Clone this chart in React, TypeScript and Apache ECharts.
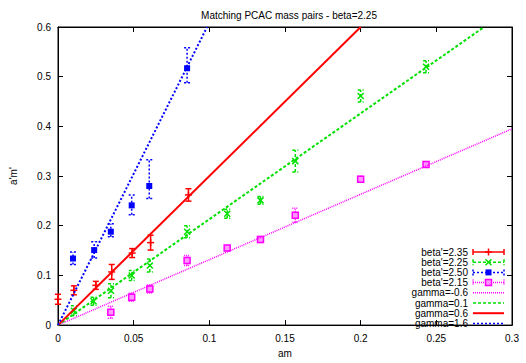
import React, { useEffect, useRef } from "react";
import * as echarts from "echarts";

// ---- data ----
const titleText = "Matching PCAC mass pairs - beta=2.25";
const xName = "am";
const yName = "a'm'";

// beta'=2.35 (red, +)
const redX = [0, 0.0105, 0.025, 0.0355, 0.049, 0.0612, 0.0862];
const redY = [0.052, 0.07, 0.08, 0.107, 0.145, 0.166, 0.262];
const redErr = [0.01, 0.009, 0.008, 0.015, 0.009, 0.015, 0.0125];

// beta'=2.25 (green, x)
const greenX = [0.0105, 0.0235, 0.035, 0.0487, 0.0607, 0.0853, 0.1118, 0.1338, 0.1568, 0.2, 0.2432];
const greenY = [0.029, 0.048, 0.069, 0.1, 0.12, 0.188, 0.224, 0.251, 0.33, 0.461, 0.52];
const greenErr = [0.01, 0.008, 0.014, 0.01, 0.013, 0.012, 0.009, 0.008, 0.022, 0.012, 0.012];

// beta'=2.50 (blue, filled square) - asymmetric bars
const blueX = [0.0099, 0.0239, 0.0349, 0.0487, 0.0603, 0.0853];
const blueY = [0.134, 0.151, 0.188, 0.241, 0.28, 0.517];
const blueLo = [0.122, 0.135, 0.178, 0.222, 0.255, 0.488];
const blueHi = [0.147, 0.168, 0.204, 0.262, 0.333, 0.558];

// beta'=2.15 (magenta, open square)
const magX = [0.0349, 0.0487, 0.0607, 0.0853, 0.1118, 0.1338, 0.1568, 0.2, 0.2432];
const magY = [0.026, 0.056, 0.0725, 0.13, 0.155, 0.1725, 0.221, 0.2935, 0.323];
const magErr = [0.012, 0.008, 0.008, 0.01, 0.005, 0.006, 0.014, 0.006, 0.005];

// straight lines through the origin: [x, y] at the end of each line
const lineStart = [0, 0];
const gammaM06End = [0.3, 0.395];
const gamma01End = [0.2816, 0.6];
const gamma06End = [0.2, 0.6];
const gamma16End = [0.0985, 0.6];

const legendLabels = [
  "beta'=2.35",
  "beta'=2.25",
  "beta'=2.50",
  "beta'=2.15",
  "gamma=-0.6",
  "gamma=0.1",
  "gamma=0.6",
  "gamma=1.6",
];

const xTicks = { min: 0, max: 0.3, interval: 0.05 };
const yTicks = { min: 0, max: 0.6, interval: 0.1 };

// ---- styles ----
const RED = "#ff0000";
const GREEN = "#00e000";
const BLUE = "#0000ff";
const MAG = "#ff00ff";
const FONT = "Liberation Sans, Arial, Helvetica, sans-serif";

function marker(kind: string, cx: number, cy: number, color: string): any {
  const lw = 1.5;
  if (kind === "plus") {
    return {
      type: "group",
      children: [
        { type: "line", shape: { x1: cx - 3.5, y1: cy, x2: cx + 3.5, y2: cy }, style: { stroke: color, lineWidth: lw } },
        { type: "line", shape: { x1: cx, y1: cy - 3.5, x2: cx, y2: cy + 3.5 }, style: { stroke: color, lineWidth: lw } },
      ],
    };
  }
  if (kind === "cross") {
    return {
      type: "group",
      children: [
        { type: "line", shape: { x1: cx - 3, y1: cy - 3, x2: cx + 3, y2: cy + 3 }, style: { stroke: color, lineWidth: lw } },
        { type: "line", shape: { x1: cx - 3, y1: cy + 3, x2: cx + 3, y2: cy - 3 }, style: { stroke: color, lineWidth: lw } },
      ],
    };
  }
  if (kind === "fsquare") {
    return { type: "rect", shape: { x: cx - 3, y: cy - 3, width: 6, height: 6 }, style: { fill: color } };
  }
  return {
    type: "rect",
    shape: { x: cx - 3, y: cy - 3, width: 6, height: 6 },
    style: { fill: "#ff99ff", stroke: color, lineWidth: 1.5 },
  };
}

function errSeries(name: string, xs: number[], ys: number[], lo: number[], hi: number[], color: string, dash: any, kind: string): any {
  return {
    type: "custom",
    name,
    xAxisIndex: 0,
    yAxisIndex: 0,
    encode: { x: 0, y: 1 },
    data: xs.map((x, i) => [x, ys[i], lo[i], hi[i]]),
    z: 3,
    renderItem: (params: any, api: any) => {
      const x = api.value(0);
      const c = api.coord([x, api.value(1)]);
      const l = api.coord([x, api.value(2)]);
      const h = api.coord([x, api.value(3)]);
      const ls = { stroke: color, lineWidth: 1.5, lineDash: dash };
      return {
        type: "group",
        children: [
          { type: "line", shape: { x1: c[0], y1: l[1], x2: c[0], y2: h[1] }, style: ls },
          { type: "line", shape: { x1: c[0] - 3, y1: l[1], x2: c[0] + 3, y2: l[1] }, style: ls },
          { type: "line", shape: { x1: c[0] - 3, y1: h[1], x2: c[0] + 3, y2: h[1] }, style: ls },
          marker(kind, c[0], c[1], color),
        ],
      };
    },
  };
}

function lineSeries(name: string, end: number[], color: string, dash: any, width: number): any {
  return {
    type: "line",
    name,
    xAxisIndex: 0,
    yAxisIndex: 0,
    data: [lineStart, end],
    showSymbol: false,
    symbol: "none",
    z: 4,
    lineStyle: { color, width, type: dash },
  };
}

export default function App() {
  const ref = useRef<HTMLDivElement>(null);
  useEffect(() => {
    if (!ref.current) return;
    const chart = echarts.init(ref.current, null, { renderer: "svg" });

    const axisCommon = {
      type: "value",
      splitLine: { show: false },
      axisLine: { show: true, onZero: false, lineStyle: { color: "#000", width: 1 } },
      axisTick: { show: true, inside: true, length: 5, lineStyle: { color: "#000" } },
    };
    const labelStyle = { color: "#000", fontSize: 10, fontFamily: FONT };

    // legend drawn as graphics (text right, sample to the right)
    const legendKinds = [
      { color: RED, dash: "solid", kind: "plus", err: true },
      { color: GREEN, dash: [3, 2], kind: "cross", err: true },
      { color: BLUE, dash: [2, 2], kind: "fsquare", err: true },
      { color: MAG, dash: [1, 1], kind: "osquare", err: true },
      { color: MAG, dash: [1, 1], kind: "", err: false },
      { color: GREEN, dash: [3, 2], kind: "", err: false },
      { color: RED, dash: undefined, kind: "", err: false },
      { color: BLUE, dash: [2, 2], kind: "", err: false },
    ];
    const legendGraphics: any[] = [];
    const textRight = 468;
    const sx1 = 473;
    const sx2 = 504;
    const row0 = 252;
    const step = 10.2;
    legendLabels.forEach((lab, i) => {
      const y = row0 + i * step;
      const k = legendKinds[i];
      legendGraphics.push({
        type: "text",
        x: textRight,
        y,
        style: { text: lab, fill: "#000", font: `10px ${FONT}`, textAlign: "right", textVerticalAlign: "middle" },
      });
      const ls: any = { stroke: k.color, lineWidth: i === 6 ? 2 : 1.5 };
      if (k.dash && k.dash !== "solid") ls.lineDash = k.dash;
      legendGraphics.push({ type: "line", shape: { x1: sx1, y1: y, x2: sx2, y2: y }, style: ls });
      if (k.err) {
        legendGraphics.push({ type: "line", shape: { x1: sx1, y1: y - 3, x2: sx1, y2: y + 3 }, style: ls });
        legendGraphics.push({ type: "line", shape: { x1: sx2, y1: y - 3, x2: sx2, y2: y + 3 }, style: ls });
        legendGraphics.push(marker(k.kind, (sx1 + sx2) / 2, y, k.color));
      }
    });

    chart.setOption({
      animation: false,
      backgroundColor: "#fff",
      title: {
        text: titleText,
        left: 284,
        top: 5,
        textAlign: "center",
        textStyle: { fontSize: 10, fontWeight: "normal", color: "#000", fontFamily: FONT },
      },
      grid: { left: 56, right: 14, top: 27, bottom: 30, show: true, borderColor: "#000", borderWidth: 1 },
      xAxis: [
        {
          ...axisCommon,
          position: "bottom",
          ...xTicks,
          axisLabel: { ...labelStyle, margin: 8 },
          name: xName,
          nameLocation: "middle",
          nameGap: 21,
          nameTextStyle: labelStyle,
        },
        {
          ...axisCommon,
          position: "top",
          ...xTicks,
          axisLabel: { show: false },
        },
      ],
      yAxis: [
        {
          ...axisCommon,
          position: "left",
          ...yTicks,
          axisLabel: { ...labelStyle, margin: 7 },
          name: yName,
          nameLocation: "middle",
          nameRotate: 90,
          nameGap: 40,
          nameTextStyle: labelStyle,
        },
        {
          ...axisCommon,
          position: "right",
          ...yTicks,
          axisLabel: { show: false },
        },
      ],
      series: [
        errSeries("beta'=2.35", redX, redY, redX.map((_, i) => redY[i] - redErr[i]), redX.map((_, i) => redY[i] + redErr[i]), RED, undefined, "plus"),
        errSeries("beta'=2.25", greenX, greenY, greenX.map((_, i) => greenY[i] - greenErr[i]), greenX.map((_, i) => greenY[i] + greenErr[i]), GREEN, [3, 2], "cross"),
        errSeries("beta'=2.50", blueX, blueY, blueLo, blueHi, BLUE, [2, 2], "fsquare"),
        errSeries("beta'=2.15", magX, magY, magX.map((_, i) => magY[i] - magErr[i]), magX.map((_, i) => magY[i] + magErr[i]), MAG, [1, 1], "osquare"),
        lineSeries("gamma=-0.6", gammaM06End, MAG, [1, 1], 1.5),
        lineSeries("gamma=0.1", gamma01End, GREEN, [3, 2], 2),
        lineSeries("gamma=0.6", gamma06End, RED, "solid", 2),
        lineSeries("gamma=1.6", gamma16End, BLUE, [2, 2], 2),
      ],
      graphic: legendGraphics,
    });
    return () => chart.dispose();
  }, []);
  return <div ref={ref} style={{ position: "fixed", left: 0, top: 0, width: 526, height: 363 }} />;
}
